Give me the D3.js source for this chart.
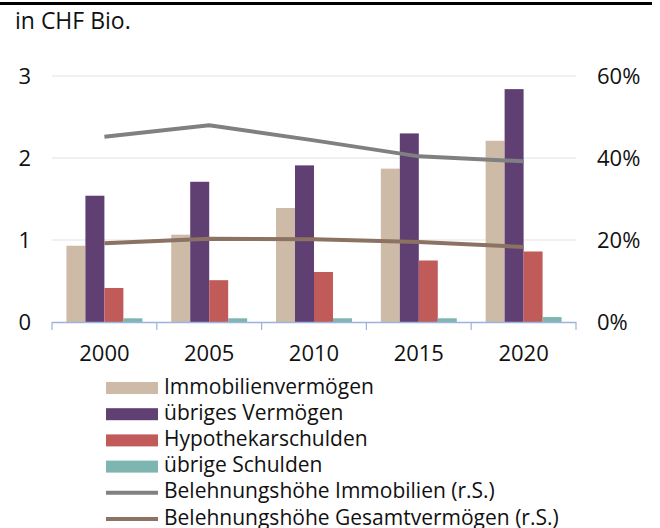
<!DOCTYPE html>
<html><head><meta charset="utf-8">
<script src="https://cdn.jsdelivr.net/npm/d3@7"></script>
<style>
html,body{margin:0;padding:0;background:#fff;}
svg text{font-family:"Open Sans",sans-serif;fill:#111;}
</style></head>
<body>
<svg id="c" width="660" height="528"></svg>
<script>
const years = ["2000","2005","2010","2015","2020"];
const immobilien = [0.93, 1.065, 1.39, 1.87, 2.21];
const uebrigesVermoegen = [1.54, 1.71, 1.91, 2.30, 2.84];
const hypothekarschulden = [0.415, 0.51, 0.61, 0.75, 0.86];
const uebrigeSchulden = [0.045, 0.045, 0.045, 0.045, 0.06];
const belehnungImmo = [45.2, 48.0, 44.3, 40.4, 39.2];
const belehnungGesamt = [19.2, 20.3, 20.2, 19.5, 18.3];
const leftTicks = [0, 1, 2, 3];
const rightTicks = [0, 20, 40, 60];

const barSeries = [
  {name:"Immobilienvermögen", values:immobilien, color:"#CDBBA8"},
  {name:"übriges Vermögen", values:uebrigesVermoegen, color:"#603F73"},
  {name:"Hypothekarschulden", values:hypothekarschulden, color:"#C05B5A"},
  {name:"übrige Schulden", values:uebrigeSchulden, color:"#7DB6B1"}
];
const lineSeries = [
  {name:"Belehnungshöhe Immobilien (r.S.)", values:belehnungImmo, color:"#808080"},
  {name:"Belehnungshöhe Gesamtvermögen (r.S.)", values:belehnungGesamt, color:"#8B7262"}
];

const svg = d3.select("#c");
const plotL = 52, plotR = 576, plotT = 76, plotB = 322;
const FS = 22;

// top rule
svg.append("rect").attr("x",0).attr("y",2).attr("width",652).attr("height",3).attr("fill","#000");
svg.append("text").attr("x",15).attr("y",29).attr("font-size",23).text("in CHF Bio.");

const x = d3.scaleBand().domain(years).range([plotL,plotR]).paddingInner(0).paddingOuter(0);
const x1 = d3.scaleBand().domain(d3.range(barSeries.length)).range([0,x.bandwidth()]).paddingOuter(0.76).paddingInner(0);
const y = d3.scaleLinear().domain([0,3]).range([plotB,plotT]);
const y2 = d3.scaleLinear().domain([0,60]).range([plotB,plotT]);

// gridlines
svg.append("g").selectAll("line").data(leftTicks.filter(d=>d>0)).join("line")
  .attr("x1",plotL).attr("x2",plotR).attr("y1",d=>y(d)).attr("y2",d=>y(d))
  .attr("stroke","#E3E3E3").attr("stroke-width",1.2);

// left axis labels
svg.append("g").call(d3.axisLeft(y).tickValues(leftTicks).tickSize(0).tickPadding(0).tickFormat(d3.format("d")))
  .attr("transform","translate(31,0)")
  .call(g=>g.select(".domain").remove())
  .call(g=>g.selectAll("text").attr("font-size",FS).attr("fill","#111").attr("font-family","Open Sans"));

// right axis labels
svg.append("g").call(d3.axisRight(y2).tickValues(rightTicks).tickSize(0).tickPadding(0).tickFormat(d=>d+"%"))
  .attr("transform","translate(597,0)")
  .call(g=>g.select(".domain").remove())
  .call(g=>g.selectAll("text").attr("font-size",FS).attr("fill","#111").attr("font-family","Open Sans"));

// bars
barSeries.forEach((s,i)=>{
  svg.append("g").selectAll("rect").data(s.values).join("rect")
    .attr("x",(d,j)=>x(years[j])+x1(i))
    .attr("width",x1.bandwidth())
    .attr("y",d=>y(d))
    .attr("height",d=>y(0)-y(d))
    .attr("fill",s.color);
});

// x axis
const xa = svg.append("g").attr("transform",`translate(0,${plotB})`);
xa.append("line").attr("x1",plotL).attr("x2",plotR).attr("y1",0.5).attr("y2",0.5).attr("stroke","#9DB3DE").attr("stroke-width",1.5);
const edges = years.map(yv=>x(yv)).concat([plotR]);
xa.selectAll("line.t").data(edges).join("line").attr("class","t")
  .attr("x1",d=>d).attr("x2",d=>d).attr("y1",0).attr("y2",8).attr("stroke","#9DB3DE").attr("stroke-width",1.2);
xa.selectAll("text").data(years).join("text")
  .attr("x",d=>x(d)+x.bandwidth()/2).attr("y",39).attr("text-anchor","middle").attr("font-size",FS).text(d=>d);

// lines
lineSeries.forEach(s=>{
  const line = d3.line().x((d,j)=>x(years[j])+x.bandwidth()/2).y(d=>y2(d));
  svg.append("path").datum(s.values).attr("d",line).attr("fill","none")
    .attr("stroke",s.color).attr("stroke-width",4).attr("stroke-linejoin","round");
});

// legend
const legItems = barSeries.map(s=>({name:s.name,color:s.color,type:"bar"}))
  .concat(lineSeries.map(s=>({name:s.name,color:s.color,type:"line"})));
const lg = svg.append("g");
legItems.forEach((it,i)=>{
  const cy = 388 + i*26.2;
  if(it.type==="bar"){
    lg.append("rect").attr("x",106).attr("y",cy-6).attr("width",52).attr("height",12).attr("fill",it.color);
  } else {
    lg.append("line").attr("x1",106).attr("x2",158).attr("y1",cy).attr("y2",cy).attr("stroke",it.color).attr("stroke-width",4);
  }
  lg.append("text").attr("x",164).attr("y",cy+5.5).attr("font-size",21).text(it.name);
});
</script>
</body></html>
